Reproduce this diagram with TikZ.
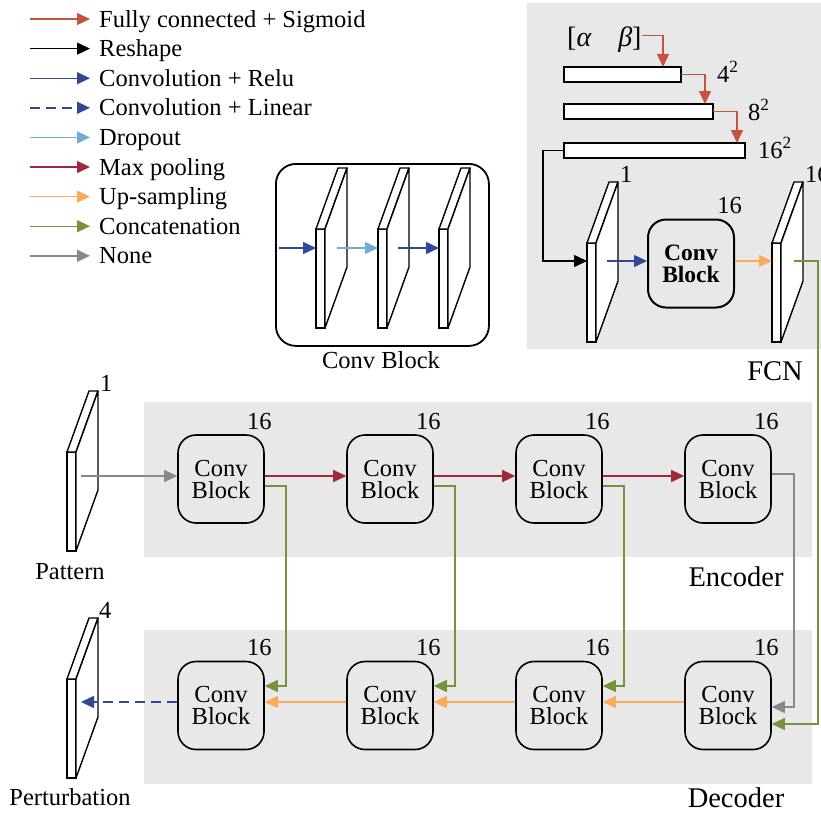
\documentclass[tikz,border=0pt]{standalone}
\usepackage{fontspec}
\setmainfont{Liberation Serif}
\usetikzlibrary{arrows.meta,calc,positioning}

\definecolor{fcred}{RGB}{200,82,62}
\definecolor{convblue}{RGB}{48,72,152}
\definecolor{dropblue}{RGB}{112,172,212}
\definecolor{poolred}{RGB}{160,40,56}
\definecolor{uporange}{RGB}{250,172,92}
\definecolor{catgreen}{RGB}{118,146,60}
\definecolor{nonegray}{RGB}{136,136,136}
\definecolor{panel}{RGB}{232,232,232}

\newcommand{\figfont}{\fontsize{24.5}{22}\selectfont}

\tikzset{
	link/.style={-{Triangle[length=13pt,width=12pt]},line width=1.4pt},
	fcarrow/.style={link,fcred},
	reshape/.style={link,black},
	convrelu/.style={link,convblue},
	convlin/.style={link,convblue,dash pattern=on 10pt off 6pt},
	dropout/.style={link,dropblue},
	maxpool/.style={link,poolred},
	upsample/.style={link,uporange},
	catline/.style={link,catgreen},
	nonearrow/.style={link,nonegray},
	block/.style={draw,line width=1.6pt,rounded corners=18pt,fill=panel,
		minimum width=86pt,minimum height=88pt,align=center,inner sep=0pt},
	mapface/.style={draw,line width=1.4pt,fill=white,anchor=north west,
		minimum width=9pt,minimum height=99pt,inner sep=0pt,outer sep=0pt},
	vecbar/.style={draw,line width=1.4pt,fill=white,anchor=north west,
		minimum height=15pt,inner sep=0pt,outer sep=0pt},
	dimlabel/.style={anchor=base west,inner sep=0pt},
	numlabel/.style={anchor=base east,inner sep=0pt},
	caption/.style={anchor=base,inner sep=0pt},
	partname/.style={caption,font=\fontsize{28.5}{30}\selectfont},
	legendtext/.style={anchor=west,inner sep=0pt,text height=16pt,text depth=0pt}
}

% feature map: name, x and y of the front top-left corner
\newcommand{\featmap}[3]{%
	\node[mapface] (#1) at (#2,#3) {};
	\coordinate (#1-top) at ($(#1.north east)+(22,-61)$);
	\draw[line width=1.4pt,fill=white,line join=round] (#1.north west) -- ++(22,-61) -- (#1-top) -- (#1.north east) -- cycle;
	\draw[line width=1.4pt,fill=white,line join=round] (#1.north east) -- (#1-top) -- ++(0,99) -- (#1.south east) -- cycle;
}

\begin{document}
\begin{tikzpicture}[x=1pt,y=-1pt,font=\figfont]
	\useasboundingbox (0,0) rectangle (821,812);
	% panels
	\fill[panel] (527,3) rectangle (821,349);
	\fill[panel] (144,402) rectangle (812,557);
	\fill[panel] (144,630) rectangle (812,784);

	% legend
	\foreach \txt/\sty [count=\i from 0] in {Fully connected + Sigmoid/fcarrow,
		Reshape/reshape, Convolution + Relu/convrelu, Convolution + Linear/convlin,
		Dropout/dropout, Max pooling/maxpool, Up-sampling/upsample,
		Concatenation/catline, None/nonearrow}
	{
		\node[legendtext] (lg\i) at (99,{19+29.6*\i}) {\txt};
		\draw[\sty] ($(lg\i.west)+(-69,0)$) -- ($(lg\i.west)+(-9,0)$);
	}

	% conv block inset
	\node[draw,line width=1.8pt,rounded corners=20pt,minimum width=213pt,
		minimum height=182pt,anchor=north west,inner sep=0pt] (cbframe) at (275,163) {};
	\featmap{cba}{316}{229}
	\featmap{cbb}{378}{229}
	\featmap{cbc}{439}{229}
	\draw[convrelu] ($(cba.north west)+(-37,19)$) -- ($(cba.north west)+(0,19)$);
	\draw[dropout] ($(cba.north east)+(12,19)$) -- ($(cbb.north west)+(0,19)$);
	\draw[convrelu] ($(cbb.north east)+(11,19)$) -- ($(cbc.north west)+(0,19)$);
	\node[caption] (cblabel) at (381,368) {Conv Block};

	% FCN
	\node[anchor=base west,inner sep=0pt,font=\fontsize{28}{30}\selectfont] (ab) at (567,46) {[\textit{α}\hspace{0.95em}\textit{β}]};
	\node[vecbar,minimum width=117pt] (b4) at (564,67) {};
	\node[vecbar,minimum width=149pt] (b8) at (564,104) {};
	\node[vecbar,minimum width=181pt] (b16) at (564,143) {};
	\node[dimlabel] (s4) at (717,82) {4\textsuperscript{2}};
	\node[dimlabel] (s8) at (748,120) {8\textsuperscript{2}};
	\node[dimlabel] (s16) at (758,158) {16\textsuperscript{2}};
	\draw[fcarrow] ([yshift=3.5pt]ab.east) -| ($(b4.north west)+(99,0)$);
	\draw[fcarrow] (b4.east) -| ($(b8.north west)+(141,0)$);
	\draw[fcarrow] (b8.east) -| ($(b16.north west)+(173,0)$);
	\featmap{fin}{587}{243}
	\featmap{fout}{772}{243}
	\node[dimlabel] at ($(fin-top)+(2,0)$) {1};
	\node[dimlabel] at ($(fout-top)+(2,0)$) {16};
	\node[block,line width=2pt,font=\fontsize{23.5}{22}\selectfont\bfseries] (fblk) at (691,263.5) {Conv\\Block};
	\node[numlabel] at ($(fblk.north east)+(7,-5)$) {16};
	\draw[reshape] (b16.west) -- ++(-21,0) |- ($(fin.north west)+(0,18)$);
	\draw[convrelu] ($(fin.north east)+(11,18)$) -- ([yshift=2.5pt]fblk.west);
	\draw[upsample] ([yshift=2.5pt]fblk.east) -- ($(fout.north west)+(0,18)$);
	\node[partname] (fcnlbl) at (775,380) {FCN};

	% encoder and decoder
	\foreach \i/\x in {1/221,2/390,3/559,4/728}
	{
		\node[block] (e\i) at (\x,479) {Conv\\Block};
		\node[numlabel] at ($(e\i.north east)+(7,-5)$) {16};
		\node[block] (d\i) at (\x,705.5) {Conv\\Block};
		\node[numlabel] at ($(d\i.north east)+(7,-5)$) {16};
	}
	\node[partname] (enclbl) at (736,586) {Encoder};
	\node[partname] (declbl) at (736,807) {Decoder};

	\featmap{pat}{67}{452}
	\node[dimlabel] at ($(pat-top)+(2,0)$) {1};
	\node[caption] (patlbl) at (70,579) {Pattern};
	\featmap{pert}{67}{679}
	\node[dimlabel] at ($(pert-top)+(1,0)$) {4};
	\node[caption] (pertlbl) at (70,805) {Perturbation};

	\draw[nonearrow] ($(pat.north east)+(5,24)$) -- ([yshift=3pt]e1.west);
	\foreach \a/\b in {1/2,2/3,3/4}
		\draw[maxpool] ([yshift=3pt]e\a.east) -- ([yshift=3pt]e\b.west);
	\foreach \a in {1,2,3}
		\draw[catline] ([yshift=-7pt]e\a.east) -- ++(21,0) |- ([yshift=19.5pt]d\a.east);
	\draw[nonearrow] ([yshift=5pt]e4.east) -- ++(22,0) |- ([yshift=-1.5pt]d4.east);
	\draw[catline] ($(fout.north east)+(13,18)$) -- ++(24,0) |- ([yshift=-18.5pt]d4.east);
	\foreach \a/\b in {2/1,3/2,4/3}
		\draw[upsample] ([yshift=3.5pt]d\a.west) -- ([yshift=3.5pt]d\b.east);
	\draw[convlin] ([yshift=3.5pt]d1.west) -- ($(pert.north east)+(5,23)$);
\end{tikzpicture}
\end{document}
